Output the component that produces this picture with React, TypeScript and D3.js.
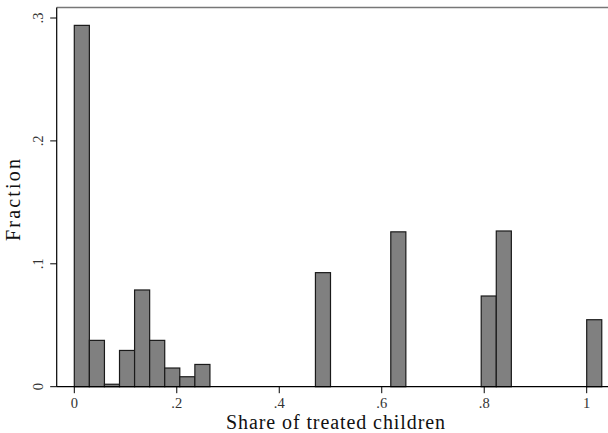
import React from "react";
import * as d3 from "d3";

const binWidth = 1 / 34;
const binIndex = [0, 1, 2, 3, 4, 5, 6, 7, 8, 16, 21, 27, 28, 34];
const fractions = [0.294, 0.0377, 0.002, 0.0295, 0.0787, 0.0377, 0.0152, 0.0081, 0.0181, 0.0928, 0.126, 0.0738, 0.1267, 0.0545];
const xTicks = [0, 0.2, 0.4, 0.6, 0.8, 1];
const xTickLabels = ["0", ".2", ".4", ".6", ".8", "1"];
const yTicks = [0, 0.1, 0.2, 0.3];
const yTickLabels = ["0", ".1", ".2", ".3"];

export default function App() {
  const W = 608, H = 433;
  const x = d3.scaleLinear().domain([0, 1]).range([74.3, 586.7]);
  const y = d3.scaleLinear().domain([0, 0.3]).range([386.7, 18]);
  const font = "'Liberation Serif', 'DejaVu Serif', serif";
  const left = 56.7, top = 7.5, bottom = 386.7;
  return (
    <svg width={W} height={H} style={{ position: "absolute", left: 0, top: 0, background: "#fff" }}>
      <rect x={0} y={0} width={W} height={H} fill="#fff" />
      <line x1={left} x2={W} y1={top} y2={top} stroke="#777" strokeWidth={1.5} />
      {binIndex.map((b, i) => {
        const x0 = x(b * binWidth), x1 = x((b + 1) * binWidth);
        return (
          <rect key={i} x={x0} y={y(fractions[i])} width={x1 - x0} height={bottom - y(fractions[i])}
            fill="#808080" stroke="#1a1a1a" strokeWidth={1.2} />
        );
      })}
      <line x1={left} x2={left} y1={top} y2={bottom} stroke="#000" strokeWidth={1.2} />
      <line x1={left} x2={W} y1={bottom} y2={bottom} stroke="#000" strokeWidth={1.2} />
      {yTicks.map((t, i) => (
        <g key={i}>
          <line x1={left - 6.5} x2={left} y1={y(t)} y2={y(t)} stroke="#000" strokeWidth={1} />
          <text transform={`translate(43,${y(t)}) rotate(-90)`} textAnchor="middle" fontFamily={font} fontSize={14.5} fill="#333">
            {yTickLabels[i]}
          </text>
        </g>
      ))}
      {xTicks.map((t, i) => (
        <g key={i}>
          <line x1={x(t)} x2={x(t)} y1={bottom} y2={bottom + 6.5} stroke="#000" strokeWidth={1} />
          <text x={x(t)} y={407.5} textAnchor="middle" fontFamily={font} fontSize={14.5} fill="#333">
            {xTickLabels[i]}
          </text>
        </g>
      ))}
      <text x={335.5} y={429} textAnchor="middle" fontFamily={font} fontSize={20} fill="#111"
        textLength={219} lengthAdjust="spacing">
        Share of treated children
      </text>
      <text transform={`translate(20,200) rotate(-90)`} textAnchor="middle" fontFamily={font} fontSize={20} fill="#111"
        textLength={82} lengthAdjust="spacing">
        Fraction
      </text>
    </svg>
  );
}
